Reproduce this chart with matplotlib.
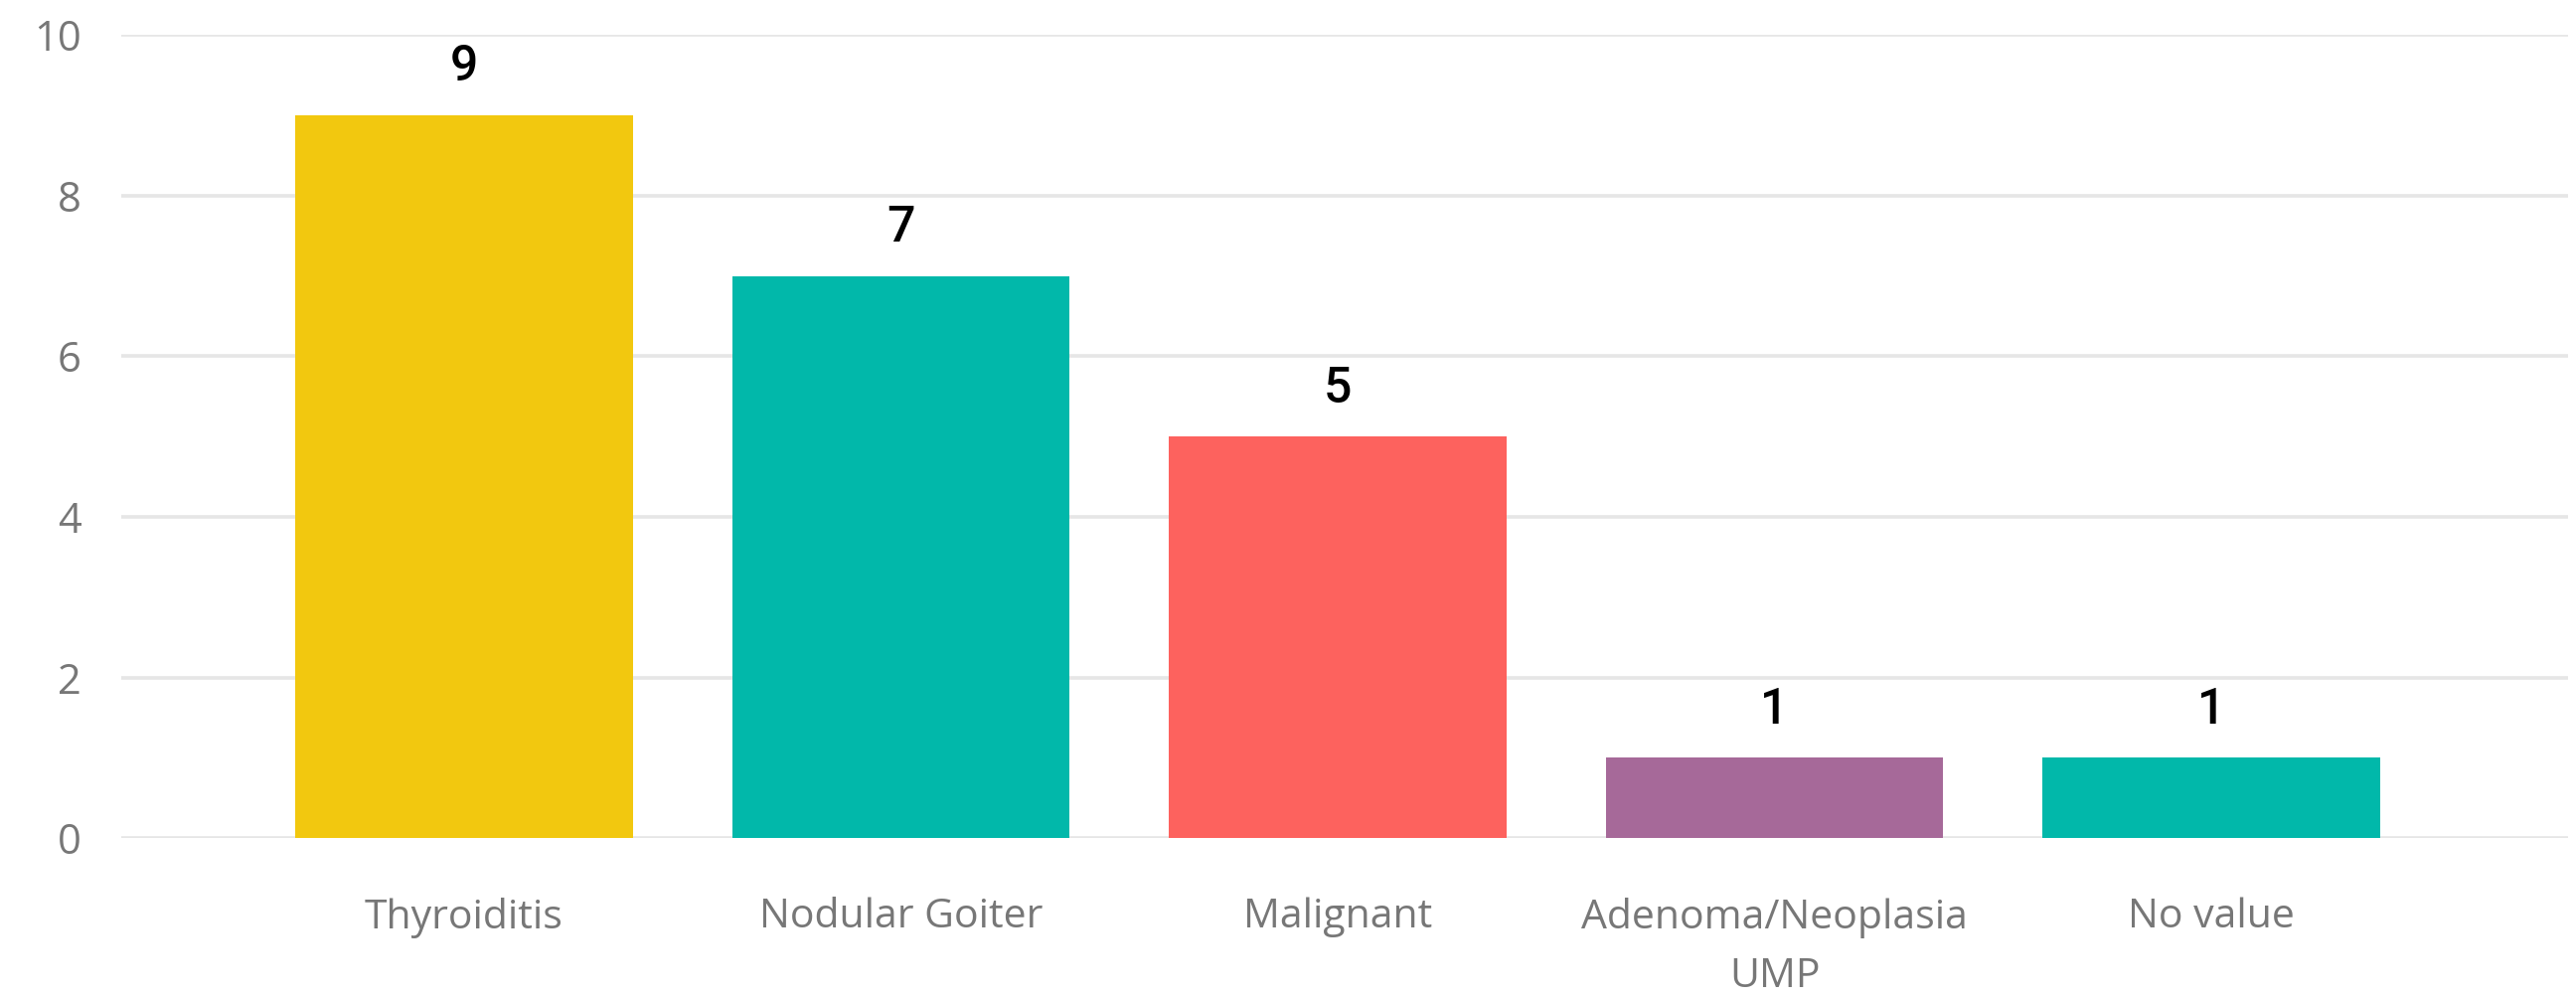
import matplotlib.pyplot as plt
import numpy as np

# Data
categories = ["Thyroiditis", "Nodular Goiter", "Malignant", "Adenoma/Neoplasia\nUMP", "No value"]
counts = [9, 7, 5, 1, 1]
bar_colors = ["#F2C80F", "#01B8AA", "#FD625E", "#A66999", "#01B8AA"]
y_ticks = [0, 2, 4, 6, 8, 10]

plt.rcParams['font.family'] = ['Open Sans', 'DejaVu Sans']

fig = plt.figure(figsize=(25.92, 10.05), dpi=100)
ax = fig.add_axes([0.047, 0.161, 0.950, 0.804])

x = np.arange(len(categories))
bars = ax.bar(x, counts, width=0.773, color=bar_colors, zorder=2)

for b, v in zip(bars, counts):
    ax.annotate(str(v), (b.get_x() + b.get_width() / 2, v),
                xytext=(0, 35), textcoords="offset points",
                ha="center", va="center", fontsize=36, color="black",
                family=["Roboto", "DejaVu Sans"], fontweight="medium")

ax.set_xlim(-0.785, 4.817)
ax.set_ylim(0, 10)
ax.set_yticks(y_ticks)
ax.set_xticks(x)
ax.set_xticklabels(categories, linespacing=1.6)

ax.grid(axis="y", color="#E6E6E6", linewidth=2.6, zorder=0)
ax.set_axisbelow(True)
for s in ax.spines.values():
    s.set_visible(False)

ax.tick_params(axis="y", length=0, pad=29, labelsize=30, labelcolor="#777777")
ax.tick_params(axis="x", length=0, pad=43, labelsize=29.5, labelcolor="#777777")

fig.savefig("out.png", dpi=100)
